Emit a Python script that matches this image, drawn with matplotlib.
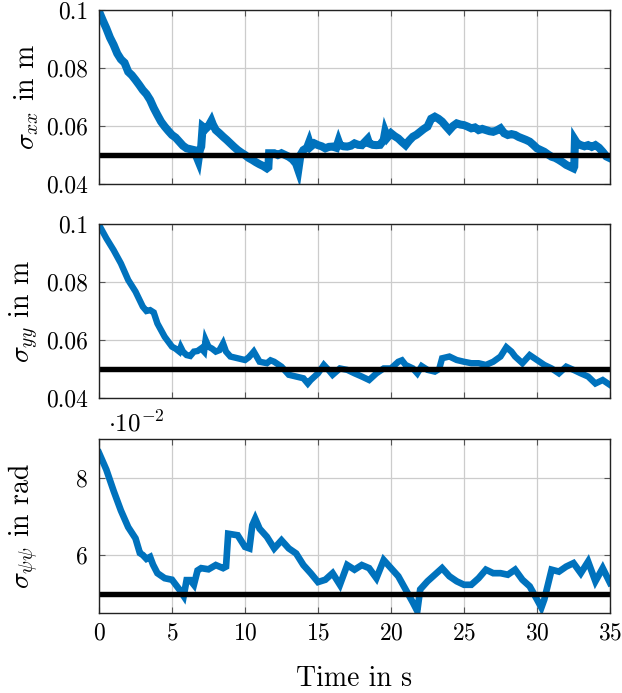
import matplotlib
matplotlib.use("Agg")
import matplotlib.pyplot as plt
from matplotlib.ticker import FuncFormatter

plt.rcParams.update({
    "font.family": "serif",
    "font.serif": ["cmr10", "DejaVu Serif"],
    "mathtext.fontset": "cm",
    "axes.formatter.use_mathtext": True,
    "axes.unicode_minus": False,
})

# --- data -------------------------------------------------------------
t_xx = [0.0, 0.25, 0.5, 0.75, 1.0, 1.25, 1.5, 1.75, 2.0, 2.25, 2.5, 2.75, 3.0, 3.25, 3.5,
        3.75, 4.0, 4.25, 4.5, 4.75, 5.0, 5.25, 5.5, 5.75, 6.0, 6.25, 6.5, 6.8, 6.9, 7.0,
        7.1, 7.3, 7.5, 7.7, 7.8, 8.0, 8.25, 8.5, 8.75, 9.0, 9.25, 9.5, 9.75, 10.0, 10.25,
        10.5, 10.75, 11.0, 11.25, 11.5, 11.6, 11.65, 12.0, 12.25, 12.5, 12.75, 13.0, 13.25,
        13.5, 13.65, 13.8, 14.0, 14.25, 14.4, 14.5, 14.75, 15.0, 15.25, 15.5, 15.75, 16.0,
        16.25, 16.4, 16.5, 16.75, 17.0, 17.25, 17.5, 17.75, 18.0, 18.4, 18.5, 18.75, 19.0,
        19.25, 19.5, 19.6, 19.75, 20.0, 20.25, 20.5, 20.75, 21.0, 21.25, 21.5, 21.75, 22.0,
        22.25, 22.5, 22.75, 23.0, 23.25, 23.5, 23.75, 24.0, 24.25, 24.5, 24.75, 25.0, 25.25,
        25.5, 25.75, 26.0, 26.25, 26.5, 26.75, 27.0, 27.25, 27.5, 27.75, 28.0, 28.25, 28.5,
        28.75, 29.0, 29.25, 29.5, 29.75, 30.0, 30.25, 30.5, 30.75, 31.0, 31.25, 31.5, 31.75,
        32.0, 32.25, 32.5, 32.55, 32.6, 32.75, 33.0, 33.25, 33.5, 33.75, 34.0, 34.25, 34.5,
        34.75, 35.0]
sigma_xx = [0.0995, 0.0965, 0.0937, 0.0905, 0.0880, 0.0850, 0.0830, 0.0818, 0.0787, 0.0775,
            0.0759, 0.0742, 0.0724, 0.0710, 0.0690, 0.0662, 0.0638, 0.0615, 0.0598, 0.0583,
            0.0569, 0.0560, 0.0546, 0.0532, 0.0523, 0.0520, 0.0517, 0.0480, 0.0515, 0.0529,
            0.0598, 0.0590, 0.0600, 0.0618, 0.0605, 0.0586, 0.0575, 0.0563, 0.0552, 0.0540,
            0.0528, 0.0517, 0.0508, 0.0500, 0.0490, 0.0483, 0.0475, 0.0468, 0.0462, 0.0454,
            0.0458, 0.0506, 0.0506, 0.0500, 0.0506, 0.0500, 0.0494, 0.0485, 0.0470, 0.0448,
            0.0500, 0.0517, 0.0525, 0.0545, 0.0529, 0.0540, 0.0534, 0.0530, 0.0523, 0.0528,
            0.0529, 0.0525, 0.0548, 0.0534, 0.0530, 0.0529, 0.0532, 0.0540, 0.0535, 0.0534,
            0.0555, 0.0540, 0.0535, 0.0534, 0.0535, 0.0552, 0.0580, 0.0560, 0.0575, 0.0565,
            0.0557, 0.0545, 0.0534, 0.0550, 0.0563, 0.0570, 0.0580, 0.0590, 0.0598, 0.0625,
            0.0632, 0.0625, 0.0615, 0.0600, 0.0586, 0.0600, 0.0609, 0.0605, 0.0603, 0.0598,
            0.0592, 0.0595, 0.0586, 0.0590, 0.0586, 0.0582, 0.0580, 0.0585, 0.0592, 0.0575,
            0.0569, 0.0572, 0.0569, 0.0562, 0.0557, 0.0552, 0.0546, 0.0535, 0.0523, 0.0517,
            0.0511, 0.0502, 0.0494, 0.0490, 0.0483, 0.0475, 0.0466, 0.0460, 0.0454, 0.0460,
            0.0552, 0.0540, 0.0534, 0.0530, 0.0534, 0.0528, 0.0534, 0.0525, 0.0511, 0.0495,
            0.0489]

t_yy = [0, 0.5, 1, 1.5, 2, 2.5, 3, 3.25, 3.5, 3.75, 4, 4.5, 5, 5.25, 5.5, 5.6, 5.75, 6,
        6.25, 6.5, 6.75, 7, 7.2, 7.3, 7.5, 7.75, 8, 8.25, 8.5, 8.7, 9, 9.5, 10, 10.25, 10.5,
        10.6, 11, 11.5, 11.75, 12, 12.5, 13, 13.5, 14, 14.3, 14.5, 15, 15.4, 15.75, 16, 16.5,
        17, 17.5, 18, 18.5, 19, 19.5, 20, 20.5, 20.75, 21, 21.5, 21.8, 22.1, 22.5, 23, 23.3,
        23.5, 24, 24.5, 25, 25.5, 26, 26.5, 27, 27.5, 27.9, 28.25, 28.5, 29, 29.5, 30, 30.5,
        31, 31.5, 32, 32.5, 33, 33.5, 34, 34.5, 35]
sigma_yy = [0.0997, 0.0951, 0.0910, 0.0864, 0.0807, 0.0767, 0.0715, 0.0700, 0.0703, 0.0695,
            0.0657, 0.0611, 0.0577, 0.0570, 0.0560, 0.0575, 0.0560, 0.0548, 0.0545, 0.0560,
            0.0562, 0.0571, 0.0560, 0.0600, 0.0577, 0.0570, 0.0560, 0.0565, 0.0588, 0.0560,
            0.0543, 0.0537, 0.0531, 0.0540, 0.0554, 0.0560, 0.0525, 0.0520, 0.0530, 0.0525,
            0.0508, 0.0480, 0.0474, 0.0468, 0.0450, 0.0462, 0.0485, 0.0514, 0.0495, 0.0480,
            0.0502, 0.0497, 0.0485, 0.0474, 0.0462, 0.0485, 0.0502, 0.0502, 0.0525, 0.0530,
            0.0514, 0.0502, 0.0485, 0.0510, 0.0497, 0.0491, 0.0500, 0.0537, 0.0543, 0.0531,
            0.0525, 0.0520, 0.0520, 0.0514, 0.0525, 0.0543, 0.0575, 0.0560, 0.0543, 0.0520,
            0.0548, 0.0531, 0.0514, 0.0502, 0.0485, 0.0508, 0.0497, 0.0485, 0.0474, 0.0450,
            0.0462, 0.0445]

t_psi = [0, 0.5, 1, 1.5, 2, 2.5, 2.8, 3, 3.25, 3.5, 3.7, 4, 4.5, 5, 5.5, 5.8, 6, 6.25, 6.5,
         6.75, 7, 7.5, 8, 8.5, 8.7, 8.85, 9.5, 10, 10.3, 10.5, 10.7, 11, 11.5, 12, 12.5, 13,
         13.5, 14, 14.5, 15, 15.5, 16, 16.5, 17, 17.5, 18, 18.5, 19, 19.5, 20, 20.5, 21,
         21.5, 21.8, 22, 22.5, 23, 23.5, 24, 24.5, 25, 25.5, 26, 26.5, 27, 27.5, 28, 28.5,
         29, 29.5, 30, 30.3, 30.5, 31, 31.5, 32, 32.5, 33, 33.5, 34, 34.5, 35]
sigma_psi = [0.0864, 0.0821, 0.0766, 0.0715, 0.0672, 0.0643, 0.0605, 0.0600, 0.0590, 0.0595,
             0.0575, 0.0553, 0.0540, 0.0536, 0.0511, 0.0494, 0.0535, 0.0535, 0.0523, 0.0560,
             0.0566, 0.0563, 0.0574, 0.0566, 0.0570, 0.0655, 0.0651, 0.0621, 0.0617, 0.0677,
             0.0694, 0.0668, 0.0647, 0.0617, 0.0638, 0.0617, 0.0604, 0.0574, 0.0553, 0.0530,
             0.0536, 0.0553, 0.0523, 0.0574, 0.0562, 0.0574, 0.0566, 0.0540, 0.0587, 0.0566,
             0.0545, 0.0511, 0.0477, 0.0455, 0.0511, 0.0532, 0.0549, 0.0566, 0.0545, 0.0532,
             0.0523, 0.0523, 0.0540, 0.0562, 0.0553, 0.0553, 0.0549, 0.0562, 0.0536, 0.0519,
             0.0485, 0.0464, 0.0485, 0.0562, 0.0557, 0.0570, 0.0579, 0.0553, 0.0583, 0.0532,
             0.0566, 0.0528]

reference_sigma = 0.05
x_ticks = [0, 5, 10, 15, 20, 25, 30, 35]
pos_ticks = [0.04, 0.06, 0.08, 0.1]
pos_tick_labels = ["0.04", "0.06", "0.08", "0.1"]
ang_ticks = [0.06, 0.08]
ylabels = [r"$\sigma_{xx}$ in m", r"$\sigma_{yy}$ in m", r"$\sigma_{\psi\psi}$ in rad"]

# --- figure -----------------------------------------------------------
W, H = 622, 693
fig = plt.figure(figsize=(W / 100, H / 100), dpi=100)

left, right = 99, 610
panels = [(10, 184), (224, 398), (439, 613)]
series = [(t_xx, sigma_xx, 5.8), (t_yy, sigma_yy, 4.6), (t_psi, sigma_psi, 4.8)]
blue = "#0072BD"

axes = []
for i, ((top, bot), (tt, vv, lw)) in enumerate(zip(panels, series)):
    ax = fig.add_axes([left / W, 1 - bot / H, (right - left) / W, (bot - top) / H])
    ax.plot(tt, vv, color=blue, lw=lw, solid_joinstyle="miter", zorder=3)
    ax.axhline(reference_sigma, color="black", lw=3.9, zorder=4)
    ax.set_xlim(0, 35)
    ax.set_xticks(x_ticks)
    if i < 2:
        ax.set_ylim(0.04, 0.1)
        ax.set_yticks(pos_ticks)
        ax.set_yticklabels(pos_tick_labels)
        ax.tick_params(labelbottom=False)
    else:
        ax.set_ylim(0.045, 0.09)
        ax.set_yticks(ang_ticks)
        ax.yaxis.set_major_formatter(FuncFormatter(lambda v, p: f"{v * 100:g}"))
        ax.text(0.018, 1.015, r"$\cdot 10^{-2}$", transform=ax.transAxes,
                fontsize=18, ha="left", va="bottom")
        ax.set_xlabel("Time in s", fontsize=20)
        ax.xaxis.set_label_coords(0.5, -0.305)
    ax.grid(True, color="#cccccc", lw=0.9)
    ax.set_axisbelow(True)
    ax.tick_params(direction="in", length=4.5, width=0.8, color="#555555",
                   top=True, right=True, labelsize=17, pad=7)
    ax.tick_params(axis="y", pad=8)
    for s in ax.spines.values():
        s.set_linewidth(1.0)
        s.set_color("#222222")
        s.set_zorder(5)
    ax.set_ylabel(ylabels[i], fontsize=20)
    ax.yaxis.set_label_coords(-0.113, 0.5)
    axes.append(ax)

fig.savefig("out.png", dpi=100)
